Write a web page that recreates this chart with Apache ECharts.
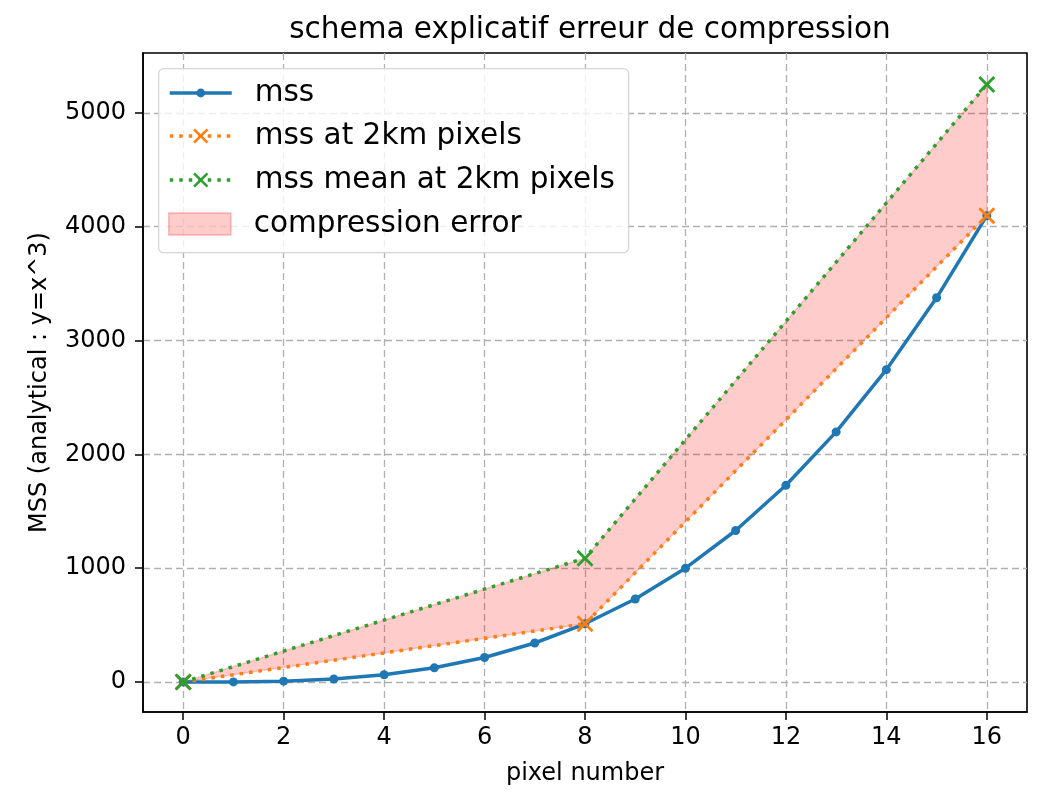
<!DOCTYPE html>
<html>
<head>
<meta charset="utf-8">
<script src="https://cdn.jsdelivr.net/npm/echarts@6/dist/echarts.min.js"></script>
<style>
html,body{margin:0;padding:0;background:#fff;}
#chart{width:1038px;height:793px;}
</style>
</head>
<body>
<div id="chart"></div>
<script>
// pixel index and the analytical signal y = x^3
const pixels = [0,1,2,3,4,5,6,7,8,9,10,11,12,13,14,15,16];
const mss = [0,1,8,27,64,125,216,343,512,729,1000,1331,1728,2197,2744,3375,4096];
// 2 km pixels (every 8th pixel)
const pixels2km = [0, 8, 16];
const mss2km = [0, 512, 4096];
const mssMean2km = [0, 1088, 5248];
// axis ticks
const xTicks = [0,2,4,6,8,10,12,14,16];
const yTicks = [0,1000,2000,3000,4000,5000];

const FONT = 'DejaVu Sans';
const xShape = 'path://M0,1.2L1.2,0L5,3.8L8.8,0L10,1.2L6.2,5L10,8.8L8.8,10L5,6.2L1.2,10L0,8.8L3.8,5Z';
const BLUE = '#1f77b4', ORANGE = '#ff7f0e', GREEN = '#2ca02c';
const FILL = 'rgba(255,0,0,0.2)';

const chart = echarts.init(document.getElementById('chart'), null, {renderer: 'canvas'});

const gridLine = {show: true, lineStyle: {color: '#b0b0b0', type: [7, 4], width: 1.3}};
const tickFont = {fontFamily: FONT, fontSize: 24, color: '#000'};

// shared legend look; three legends so each icon gets its own height
const legendBase = {
  orient: 'vertical', left: 168,
  padding: 0, itemWidth: 62, itemGap: 14,
  textStyle: {fontFamily: FONT, fontSize: 29.5, color: '#000', lineHeight: 30, padding: [0, 0, 0, 18]},
  lineStyle: {width: 3.5},
  z: 6
};

// polygon between the 2 km values and their means
function renderErrorBand(params, api) {
  if (params.dataIndex !== 0) return null;
  const upper = pixels2km.map((x, i) => api.coord([x, mssMean2km[i]]));
  const lower = pixels2km.map((x, i) => api.coord([x, mss2km[i]])).reverse();
  return {
    type: 'polygon',
    shape: {points: upper.concat(lower)},
    style: {fill: FILL, stroke: 'rgba(255,0,0,0.18)', lineWidth: 1.5}
  };
}

chart.setOption({
  animation: false,
  backgroundColor: '#fff',
  title: {
    text: 'schema explicatif erreur de compression',
    left: 585, textAlign: 'center', top: 10,
    textStyle: {fontFamily: FONT, fontSize: 29.5, fontWeight: 'normal', color: '#000'}
  },
  grid: {left: 143, right: 11, top: 53, bottom: 81, show: true, borderColor: '#000', borderWidth: 1.6, backgroundColor: 'transparent'},
  graphic: [{
    type: 'rect', left: 158, top: 68, z: 5,
    shape: {width: 470, height: 184, r: 5},
    style: {fill: 'rgba(255,255,255,0.8)', stroke: '#d6d6d6', lineWidth: 1.3}
  }],
  legend: [
    Object.assign({}, legendBase, {top: 78, itemHeight: 11, data: ['mss']}),
    Object.assign({}, legendBase, {top: 121, itemHeight: 19, data: ['mss at 2km pixels', 'mss mean at 2km pixels']}),
    Object.assign({}, legendBase, {top: 209, itemHeight: 22, data: [
      {name: 'compression error', icon: 'rect', itemStyle: {color: FILL, borderColor: 'rgba(255,0,0,0.25)', borderWidth: 1.5}}
    ]})
  ],
  xAxis: {
    type: 'value', min: -0.8, max: 16.8,
    name: 'pixel number', nameLocation: 'middle', nameGap: 50,
    nameTextStyle: {fontFamily: FONT, fontSize: 24, color: '#000'},
    axisLine: {show: true, onZero: false, lineStyle: {color: '#000', width: 1.6}},
    axisTick: {show: true, length: 8, customValues: xTicks, lineStyle: {color: '#000', width: 1.5}},
    axisLabel: Object.assign({customValues: xTicks, margin: 14}, tickFont),
    splitLine: gridLine
  },
  yAxis: {
    type: 'value', min: -263, max: 5525,
    name: 'MSS (analytical : y=x^3)', nameLocation: 'middle', nameGap: 91,
    nameTextStyle: {fontFamily: FONT, fontSize: 24, color: '#000'},
    axisLine: {show: true, onZero: false, lineStyle: {color: '#000', width: 1.6}},
    axisTick: {show: true, length: 8, customValues: yTicks, lineStyle: {color: '#000', width: 1.5}},
    axisLabel: Object.assign({customValues: yTicks, margin: 17, formatter: v => String(v)}, tickFont),
    splitLine: gridLine
  },
  series: [
    {
      name: 'compression error', type: 'custom', silent: true,
      data: pixels2km.map((x, i) => [x, mss2km[i], mssMean2km[i]]),
      encode: {x: 0, y: [1, 2]},
      itemStyle: {color: FILL},
      renderItem: renderErrorBand, clip: true, z: 1
    },
    {
      name: 'mss', type: 'line',
      data: pixels.map((x, i) => [x, mss[i]]),
      symbol: 'circle', symbolSize: 9,
      itemStyle: {color: BLUE},
      lineStyle: {color: BLUE, width: 3.5}, z: 3
    },
    {
      name: 'mss at 2km pixels', type: 'line',
      data: pixels2km.map((x, i) => [x, mss2km[i]]),
      symbol: xShape, symbolSize: 17,
      itemStyle: {color: ORANGE},
      lineStyle: {color: ORANGE, width: 3.5, type: [3.5, 6]}, z: 4
    },
    {
      name: 'mss mean at 2km pixels', type: 'line',
      data: pixels2km.map((x, i) => [x, mssMean2km[i]]),
      symbol: xShape, symbolSize: 17,
      itemStyle: {color: GREEN},
      lineStyle: {color: GREEN, width: 3.5, type: [3.5, 6]}, z: 5
    }
  ]
});
</script>
</body>
</html>
